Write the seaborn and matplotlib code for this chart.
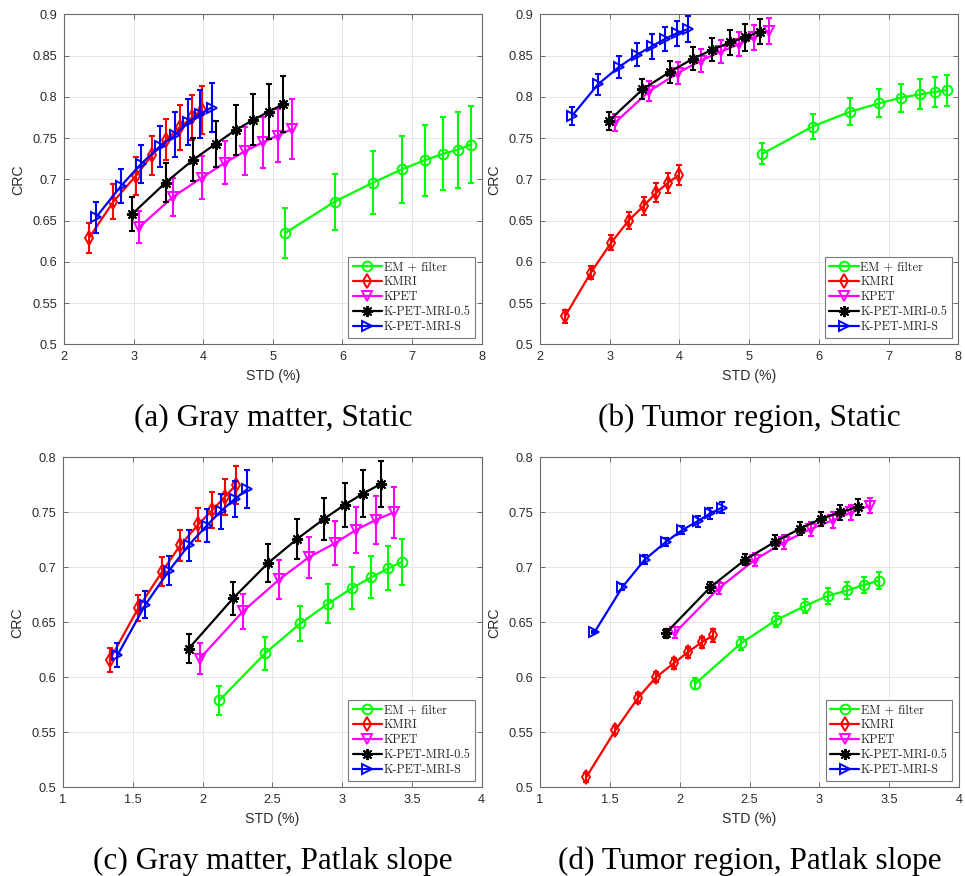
import matplotlib
matplotlib.use("Agg")
import matplotlib.pyplot as plt
from matplotlib.ticker import FuncFormatter, FixedLocator
import seaborn as sns
import pandas as pd

# ---------------- data ----------------
METHODS = ["EM + filter", "KMRI", "KPET", "K-PET-MRI-0.5", "K-PET-MRI-S"]
CAPTIONS = ["(a) Gray matter, Static", "(b) Tumor region, Static",
            "(c) Gray matter, Patlak slope", "(d) Tumor region, Patlak slope"]

# Panel (a) Gray matter, Static
A_EM_X = [5.18, 5.89, 6.44, 6.85, 7.18, 7.45, 7.66, 7.84]
A_EM_Y = [0.635, 0.673, 0.696, 0.712, 0.723, 0.731, 0.736, 0.742]
A_EM_E = [0.030, 0.034, 0.038, 0.041, 0.043, 0.044, 0.046, 0.047]
A_KMRI_X = [2.36, 2.71, 3.03, 3.26, 3.47, 3.66, 3.84, 3.98]
A_KMRI_Y = [0.629, 0.673, 0.704, 0.729, 0.748, 0.763, 0.775, 0.784]
A_KMRI_E = [0.018, 0.021, 0.023, 0.024, 0.025, 0.027, 0.027, 0.029]
A_KPET_X = [3.08, 3.57, 3.98, 4.31, 4.60, 4.86, 5.07, 5.28]
A_KPET_Y = [0.642, 0.679, 0.702, 0.720, 0.734, 0.745, 0.753, 0.761]
A_KPET_E = [0.019, 0.023, 0.026, 0.026, 0.029, 0.031, 0.032, 0.036]
A_KPM05_X = [2.98, 3.46, 3.86, 4.18, 4.47, 4.72, 4.94, 5.15]
A_KPM05_Y = [0.658, 0.696, 0.724, 0.743, 0.760, 0.772, 0.782, 0.791]
A_KPM05_E = [0.021, 0.024, 0.026, 0.028, 0.030, 0.031, 0.033, 0.034]
A_KPMS_X = [2.46, 2.82, 3.11, 3.38, 3.60, 3.78, 3.95, 4.12]
A_KPMS_Y = [0.654, 0.692, 0.719, 0.740, 0.754, 0.769, 0.779, 0.787]
A_KPMS_E = [0.019, 0.021, 0.023, 0.025, 0.027, 0.028, 0.029, 0.030]

# Panel (b) Tumor region, Static
B_EM_X = [5.19, 5.91, 6.45, 6.86, 7.18, 7.45, 7.67, 7.84]
B_EM_Y = [0.731, 0.764, 0.782, 0.792, 0.799, 0.803, 0.806, 0.808]
B_EM_E = [0.013, 0.015, 0.016, 0.017, 0.017, 0.018, 0.018, 0.019]
B_KMRI_X = [2.36, 2.73, 3.02, 3.27, 3.49, 3.67, 3.84, 3.99]
B_KMRI_Y = [0.534, 0.587, 0.623, 0.650, 0.668, 0.684, 0.696, 0.705]
B_KMRI_E = [0.008, 0.008, 0.009, 0.010, 0.011, 0.011, 0.012, 0.012]
B_KPET_X = [3.08, 3.57, 3.98, 4.31, 4.60, 4.86, 5.07, 5.28]
B_KPET_Y = [0.769, 0.807, 0.829, 0.844, 0.855, 0.864, 0.872, 0.880]
B_KPET_E = [0.010, 0.012, 0.013, 0.014, 0.014, 0.015, 0.015, 0.016]
B_KPM05_X = [2.99, 3.47, 3.86, 4.19, 4.47, 4.73, 4.94, 5.15]
B_KPM05_Y = [0.771, 0.809, 0.830, 0.846, 0.857, 0.866, 0.872, 0.879]
B_KPM05_E = [0.011, 0.012, 0.013, 0.014, 0.014, 0.015, 0.016, 0.015]
B_KPMS_X = [2.46, 2.83, 3.13, 3.39, 3.60, 3.79, 3.96, 4.12]
B_KPMS_Y = [0.777, 0.815, 0.836, 0.851, 0.861, 0.870, 0.877, 0.882]
B_KPMS_E = [0.011, 0.0125, 0.0135, 0.014, 0.015, 0.015, 0.015, 0.0155]

# Panel (c) Gray matter, Patlak slope
C_EM_X = [2.12, 2.45, 2.70, 2.90, 3.07, 3.21, 3.33, 3.43]
C_EM_Y = [0.579, 0.622, 0.649, 0.667, 0.681, 0.691, 0.699, 0.705]
C_EM_E = [0.013, 0.015, 0.016, 0.018, 0.019, 0.019, 0.020, 0.021]
C_KMRI_X = [1.335, 1.54, 1.71, 1.84, 1.97, 2.07, 2.16, 2.24]
C_KMRI_Y = [0.616, 0.663, 0.696, 0.720, 0.739, 0.752, 0.764, 0.775]
C_KMRI_E = [0.011, 0.012, 0.013, 0.014, 0.015, 0.016, 0.016, 0.017]
C_KPET_X = [1.98, 2.29, 2.55, 2.76, 2.95, 3.10, 3.24, 3.37]
C_KPET_Y = [0.617, 0.660, 0.689, 0.709, 0.722, 0.734, 0.743, 0.750]
C_KPET_E = [0.014, 0.016, 0.018, 0.019, 0.020, 0.021, 0.022, 0.023]
C_KPM05_X = [1.90, 2.22, 2.47, 2.68, 2.87, 3.02, 3.15, 3.28]
C_KPM05_Y = [0.626, 0.672, 0.704, 0.726, 0.744, 0.757, 0.767, 0.776]
C_KPM05_E = [0.013, 0.015, 0.017, 0.018, 0.019, 0.020, 0.021, 0.021]
C_KPMS_X = [1.39, 1.59, 1.76, 1.90, 2.03, 2.13, 2.23, 2.32]
C_KPMS_Y = [0.620, 0.666, 0.697, 0.720, 0.738, 0.751, 0.762, 0.771]
C_KPMS_E = [0.011, 0.012, 0.013, 0.014, 0.015, 0.016, 0.016, 0.017]

# Panel (d) Tumor region, Patlak slope
D_EM_X = [2.11, 2.44, 2.69, 2.90, 3.06, 3.20, 3.32, 3.43]
D_EM_Y = [0.594, 0.631, 0.652, 0.665, 0.674, 0.679, 0.684, 0.688]
D_EM_E = [0.005, 0.006, 0.0065, 0.0065, 0.007, 0.0075, 0.0075, 0.0075]
D_KMRI_X = [1.33, 1.54, 1.70, 1.83, 1.96, 2.06, 2.16, 2.24]
D_KMRI_Y = [0.509, 0.552, 0.581, 0.600, 0.613, 0.623, 0.632, 0.638]
D_KMRI_E = [0.004, 0.004, 0.0045, 0.0045, 0.005, 0.005, 0.005, 0.0055]
D_KPET_X = [1.97, 2.28, 2.54, 2.75, 2.94, 3.10, 3.23, 3.36]
D_KPET_Y = [0.641, 0.681, 0.707, 0.723, 0.735, 0.743, 0.750, 0.756]
D_KPET_E = [0.005, 0.0055, 0.006, 0.006, 0.0065, 0.007, 0.007, 0.007]
D_KPM05_X = [1.90, 2.22, 2.47, 2.68, 2.86, 3.01, 3.15, 3.28]
D_KPM05_Y = [0.640, 0.682, 0.707, 0.723, 0.735, 0.744, 0.750, 0.755]
D_KPM05_E = [0.004, 0.005, 0.005, 0.006, 0.006, 0.006, 0.007, 0.007]
D_KPMS_X = [1.39, 1.59, 1.75, 1.90, 2.02, 2.13, 2.22, 2.30]
D_KPMS_Y = [0.641, 0.682, 0.707, 0.723, 0.734, 0.742, 0.749, 0.754]
D_KPMS_E = [0.001, 0.003, 0.004, 0.004, 0.004, 0.005, 0.005, 0.005]

X_TICKS_STATIC = [2, 3, 4, 5, 6, 7, 8]
Y_TICKS_STATIC = [0.5, 0.55, 0.6, 0.65, 0.7, 0.75, 0.8, 0.85, 0.9]
X_TICKS_PATLAK = [1, 1.5, 2, 2.5, 3, 3.5, 4]
Y_TICKS_PATLAK = [0.5, 0.55, 0.6, 0.65, 0.7, 0.75, 0.8]

PANELS = [
    [(A_EM_X, A_EM_Y, A_EM_E), (A_KMRI_X, A_KMRI_Y, A_KMRI_E), (A_KPET_X, A_KPET_Y, A_KPET_E),
     (A_KPM05_X, A_KPM05_Y, A_KPM05_E), (A_KPMS_X, A_KPMS_Y, A_KPMS_E)],
    [(B_EM_X, B_EM_Y, B_EM_E), (B_KMRI_X, B_KMRI_Y, B_KMRI_E), (B_KPET_X, B_KPET_Y, B_KPET_E),
     (B_KPM05_X, B_KPM05_Y, B_KPM05_E), (B_KPMS_X, B_KPMS_Y, B_KPMS_E)],
    [(C_EM_X, C_EM_Y, C_EM_E), (C_KMRI_X, C_KMRI_Y, C_KMRI_E), (C_KPET_X, C_KPET_Y, C_KPET_E),
     (C_KPM05_X, C_KPM05_Y, C_KPM05_E), (C_KPMS_X, C_KPMS_Y, C_KPMS_E)],
    [(D_EM_X, D_EM_Y, D_EM_E), (D_KMRI_X, D_KMRI_Y, D_KMRI_E), (D_KPET_X, D_KPET_Y, D_KPET_E),
     (D_KPM05_X, D_KPM05_Y, D_KPM05_E), (D_KPMS_X, D_KPMS_Y, D_KPMS_E)],
]

# ---------------- style ----------------
COLORS = ["#00ff00", "#ff0000", "#ff00ff", "#000000", "#0000ff"]
MARKERS = ["o", "d", "v", (8, 2, 0), ">"]
MSIZES = [7.0, 7.5, 7.5, 8.0, 7.5]

sns.set_theme(style="white")
plt.rcParams["font.family"] = ["Liberation Sans", "DejaVu Sans"]

fig = plt.figure(figsize=(9.65, 8.76), dpi=100)
AX_POS = [
    [64 / 965, 1 - 344.3 / 876, 417.7 / 965, 330 / 876],
    [540 / 965, 1 - 344.3 / 876, 418.3 / 965, 330 / 876],
    [63 / 965, 1 - 787.3 / 876, 418.7 / 965, 330 / 876],
    [540 / 965, 1 - 787.3 / 876, 419 / 965, 330 / 876],
]
CAP_Y = [1 - 418 / 876, 1 - 418 / 876, 1 - 861 / 876, 1 - 861 / 876]

fmt = FuncFormatter(lambda v, _: f"{v:g}")

for pi, series in enumerate(PANELS):
    ax = fig.add_axes(AX_POS[pi])
    static = pi < 2
    handles = []
    for si, (xs, ys, es) in enumerate(series):
        df = pd.DataFrame({"STD": xs, "CRC": ys})
        sns.lineplot(data=df, x="STD", y="CRC", ax=ax, color=COLORS[si],
                     marker=MARKERS[si], markersize=MSIZES[si],
                     markerfacecolor="none", markeredgecolor=COLORS[si],
                     markeredgewidth=1.4, linewidth=1.6, legend=False,
                     sort=False, zorder=3 + si)
        line = ax.lines[-1]
        ax.errorbar(xs, ys, yerr=es, fmt="none", ecolor=COLORS[si],
                    elinewidth=1.5, capsize=2.0, capthick=1.5, zorder=3 + si)
        handles.append(line)

    if static:
        ax.set_xlim(2, 8)
        ax.set_ylim(0.5, 0.9)
        ax.xaxis.set_major_locator(FixedLocator(X_TICKS_STATIC))
        ax.yaxis.set_major_locator(FixedLocator(Y_TICKS_STATIC))
    else:
        ax.set_xlim(1, 4)
        ax.set_ylim(0.5, 0.8)
        ax.xaxis.set_major_locator(FixedLocator(X_TICKS_PATLAK))
        ax.yaxis.set_major_locator(FixedLocator(Y_TICKS_PATLAK))
    ax.xaxis.set_major_formatter(fmt)
    ax.yaxis.set_major_formatter(fmt)

    ax.set_axisbelow(True)
    ax.grid(True, color="#e6e6e6", linewidth=0.7)
    for sp in ax.spines.values():
        sp.set_visible(True)
        sp.set_color("#6a6a6a")
        sp.set_linewidth(0.8)
    ax.tick_params(direction="in", length=3.5, width=0.7, colors="#6a6a6a",
                   labelcolor="#2a2a2a", labelsize=9.2, pad=5,
                   top=True, right=True, bottom=True, left=True)
    ax.set_xlabel("STD (%)", fontsize=10.2, color="#2a2a2a", labelpad=4.5)
    ax.set_ylabel("CRC", fontsize=10.2, color="#2a2a2a", labelpad=5)

    leg = ax.legend(handles, METHODS, loc="lower right",
                    prop={"family": "cmr10", "size": 8.8},
                    frameon=True, fancybox=False, framealpha=1,
                    edgecolor="#7a7a7a", borderaxespad=0.55,
                    handlelength=2.4, handletextpad=0.15, labelspacing=0.24,
                    borderpad=0.35, numpoints=1)
    leg.get_frame().set_linewidth(0.8)

    cx = AX_POS[pi][0] + AX_POS[pi][2] / 2
    fig.text(cx, CAP_Y[pi], CAPTIONS[pi], ha="center", va="center",
             fontsize=22.5, family=["Liberation Serif", "DejaVu Serif"], color="black")

fig.savefig("out.png", dpi=100, facecolor="white")
